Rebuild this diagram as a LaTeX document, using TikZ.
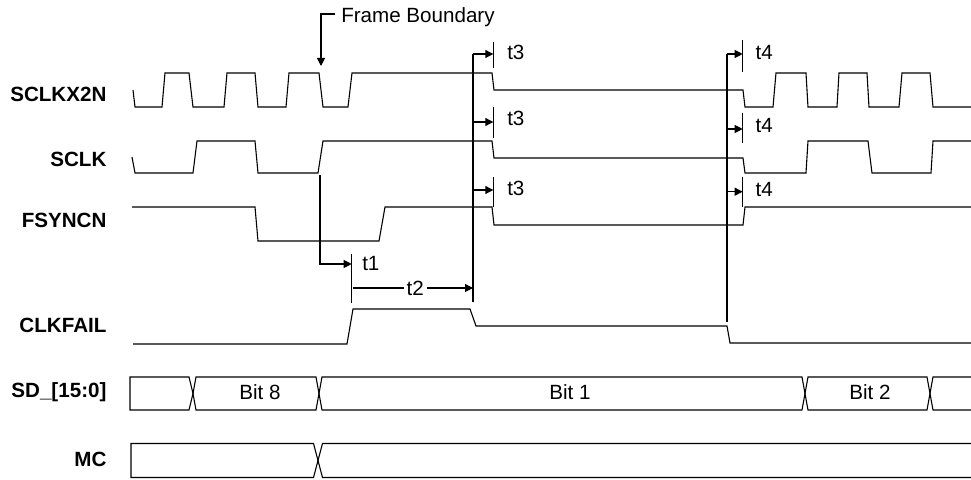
\documentclass[tikz,border=0pt]{standalone}
\usepackage{fontspec}
\setmainfont{Liberation Sans}
\usetikzlibrary{arrows.meta}

\begin{document}
\begin{tikzpicture}[x=0.5pt, y=-0.5pt, line width=0.55pt,
    font=\fontsize{10.3}{12}\selectfont,
    signame/.style={anchor=base east, inner sep=0pt, font=\fontsize{10.3}{12}\selectfont\bfseries},
    tlabel/.style={anchor=west, inner sep=0pt},
    tarrow/.style={-{Triangle[length=4pt, width=4pt]}}]

    \useasboundingbox (0,0) rectangle (971,480);

    % Signal names
    \node[signame] (nsclkx) at (107,102) {SCLKX2N};
    \node[signame] (nsclk) at (107,167) {SCLK};
    \node[signame] (nfsync) at (107,228) {FSYNCN};
    \node[signame] (nfail) at (107,333) {CLKFAIL};
    \node[signame] (nsd) at (107,398) {SD\_[15:0]};
    \node[signame] (nmc) at (107,467) {MC};

    % SCLKX2N
    \draw (133,90) -- (135,107) -- (162,107) -- (165,73) -- (189,73) -- (193,107)
        -- (224,107) -- (227,73) -- (255,73) -- (258,107) -- (286,107) -- (289,73)
        -- (319,73) -- (323,107) -- (348,107) -- (352,73) -- (492,73) -- (494,90)
        -- (743,90) -- (745,107) -- (773,107) -- (776,73) -- (806,73) -- (808,107)
        -- (837,107) -- (839,73) -- (867,73) -- (869,107) -- (899,107) -- (902,73)
        -- (930,73) -- (933,107) -- (971,107);

    % SCLK
    \draw (132,157) -- (135,173) -- (193,173) -- (197,141) -- (255,141) -- (258,173)
        -- (318,173) -- (323,141) -- (492,141) -- (494,158) -- (743,158) -- (745,173)
        -- (806,173) -- (808,141) -- (868,141) -- (872,173) -- (931,173) -- (933,141)
        -- (971,141);

    % FSYNCN
    \draw (132,207) -- (255,207) -- (258,241) -- (379,241) -- (385,207) -- (492,207)
        -- (494,225) -- (743,225) -- (745,207) -- (971,207);

    % CLKFAIL
    \draw (133,344) -- (347,344) -- (353,309) -- (470,309) -- (476,326) -- (727,326)
        -- (730,343) -- (971,343);

    % SD_[15:0]
    \draw (130,377) -- (189,377) -- (193,393.5) -- (189,410) -- (130,410) -- cycle;
    \foreach \a/\b in {193/319, 319/805, 805/930} {
        \draw (\a,393.5) -- (\a+3,377) -- (\b-3,377) -- (\b,393.5) -- (\b-3,410) -- (\a+3,410) -- cycle;
    }
    \draw (971,377) -- (933,377) -- (930,393.5) -- (933,410) -- (971,410);
    \node (bit8) at (260,392) {Bit 8};
    \node (bit1) at (570,392) {Bit 1};
    \node (bit2) at (870,392) {Bit 2};

    % MC
    \draw (131,443.5) -- (313.5,443.5) -- (318,460.5) -- (313.5,477.5) -- (131,477.5) -- cycle;
    \draw (971,443.5) -- (322.5,443.5) -- (318,460.5) -- (322.5,477.5) -- (971,477.5);

    % Frame boundary
    \node[anchor=base west, inner sep=0pt] (fb) at (340.7,23) {Frame Boundary};
    \coordinate (fbend) at (335,14);
    \coordinate (fbtip) at (321,66);
    \draw[tarrow] (fbend) -- (fbtip |- fbend) -- (fbtip);

    % t1
    \coordinate (t1top) at (320,175);
    \coordinate (t1tip) at (351.7,264);
    \draw (351.7,254) -- (351.7,303);
    \draw[tarrow] (t1top) |- (t1tip);
    \node[tlabel] (lt1) at (361.7,263.3) {t1};

    % t2
    \coordinate (t2start) at (352.5,288);
    \coordinate (t2tip) at (473,288);
    \draw[tarrow] (t2start) -- node[fill=white, inner sep=1.5pt, pos=0.52] (lt2) {t2} (t2tip);

    % t3
    \draw (473,54) -- (473,302);
    \foreach \n/\y/\ta/\tb/\ly in {a/54/42/68/52.5, b/122/107/138/118, c/190/177/207/188.3} {
        \draw (493.3,\ta) -- (493.3,\tb);
        \coordinate (t3\n) at (473,\y);
        \coordinate (k3\n) at (493.3,\y);
        \draw[tarrow] (t3\n) -- (k3\n);
        \node[tlabel] (lt3\n) at (506.7,\ly) {t3};
    }

    % t4
    \draw (727,54) -- (727,322);
    \foreach \n/\y/\ta/\tb/\ly in {a/54/40/71.7/52.5, b/129/112.7/143.3/125.8, c/191.7/176.7/206.7/189} {
        \draw (742.7,\ta) -- (742.7,\tb);
        \coordinate (t4\n) at (727,\y);
        \coordinate (k4\n) at (742.7,\y);
        \draw[tarrow] (t4\n) -- (k4\n);
        \node[tlabel] (lt4\n) at (755,\ly) {t4};
    }

\end{tikzpicture}
\end{document}
